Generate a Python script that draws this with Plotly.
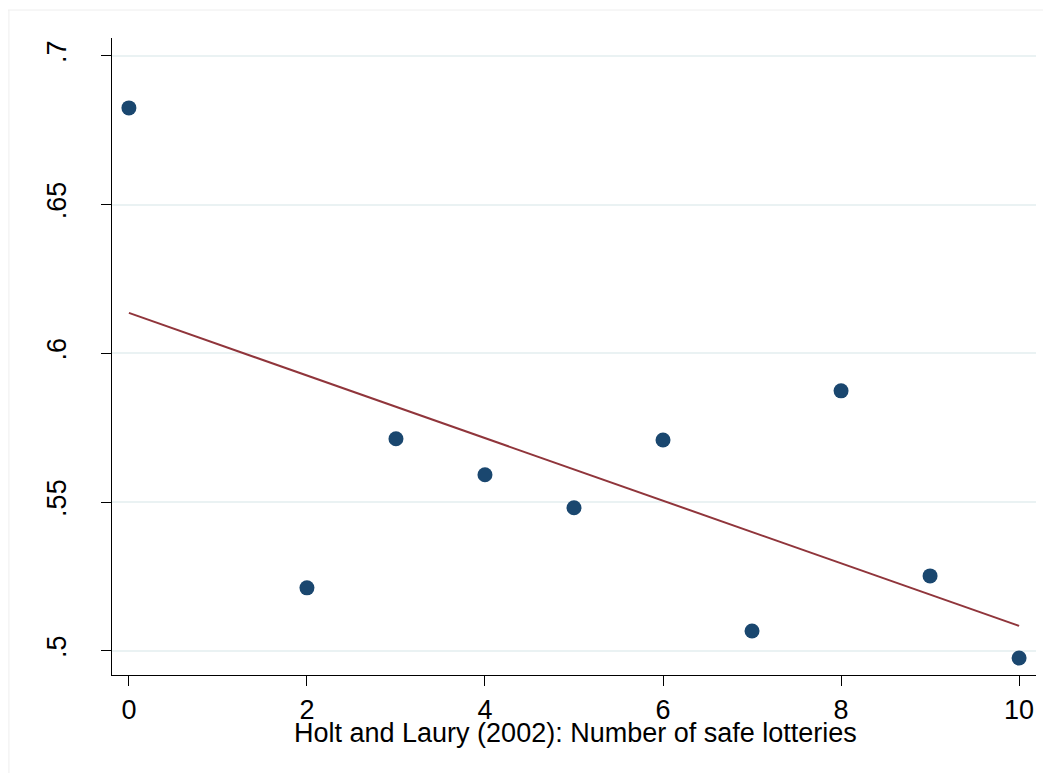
import plotly.graph_objects as go

# Data
safe_lotteries = [0, 2, 3, 4, 5, 6, 7, 8, 9, 10]
share = [0.6825, 0.5212, 0.5713, 0.5592, 0.5481, 0.5709, 0.5067, 0.5874, 0.5252, 0.4976]
fit_x = [0, 10]
fit_y = [0.6136, 0.5084]
x_ticks = [0, 2, 4, 6, 8, 10]
y_ticks = [0.5, 0.55, 0.6, 0.65, 0.7]
y_tick_labels = [".5", ".55", ".6", ".65", ".7"]
x_title = "Holt and Laury (2002): Number of safe lotteries"

# page has an 8px body margin, so the figure is drawn 8px smaller and offset
OFF = 8
W, H = 1051 - OFF, 773 - OFF
L, R, T, B = 112 - OFF, 15, 38 - OFF, 98
pw, ph = W - L - R, H - T - B

fig = go.Figure()
fig.add_trace(go.Scatter(x=safe_lotteries, y=share, mode="markers",
                         marker=dict(color="#1a476f", size=15, line=dict(width=0)),
                         showlegend=False))
fig.add_trace(go.Scatter(x=fit_x, y=fit_y, mode="lines",
                         line=dict(color="#90353b", width=2), showlegend=False))

font = "Liberation Sans, Arial, sans-serif"
FS = 27
fig.update_layout(
    width=W, height=H,
    margin=dict(l=L, r=R, t=T, b=B),
    paper_bgcolor="white", plot_bgcolor="white",
    font=dict(family=font, color="black", size=FS),
    xaxis=dict(range=[-0.19, 10.19], tickvals=x_ticks, ticks="outside", ticklen=10,
               tickwidth=1.2, tickcolor="black", showline=True, linecolor="black",
               linewidth=1.2, showgrid=False, zeroline=False,
               tickfont=dict(size=FS), ticklabelstandoff=0),
    yaxis=dict(range=[0.4919, 0.7060], tickvals=y_ticks, ticktext=y_tick_labels,
               tickangle=-90, ticks="outside", ticklen=10, tickwidth=1.2,
               tickcolor="black", showline=True, linecolor="black", linewidth=1.2,
               showgrid=True, gridcolor="#eaf2f3", gridwidth=2, zeroline=False,
               tickfont=dict(size=FS), ticklabelstandoff=24),
)

fig.add_annotation(text=x_title, xref="paper", yref="paper",
                   x=(575 - 112) / pw, y=-(733 - 675) / ph,
                   xanchor="center", yanchor="middle", showarrow=False,
                   font=dict(size=FS, family=font, color="black"))

# faint outer graph-region frame
x0 = (0 - L) / pw
y0 = (H - B - 2) / ph
fig.add_shape(type="line", xref="paper", yref="paper", x0=x0, x1=1.2, y0=y0, y1=y0,
              line=dict(color="#eeeeee", width=1))
fig.add_shape(type="line", xref="paper", yref="paper", x0=x0 + 0.001, x1=x0 + 0.001,
              y0=y0, y1=-0.3, line=dict(color="#eeeeee", width=1))

fig.write_html("out.html")
